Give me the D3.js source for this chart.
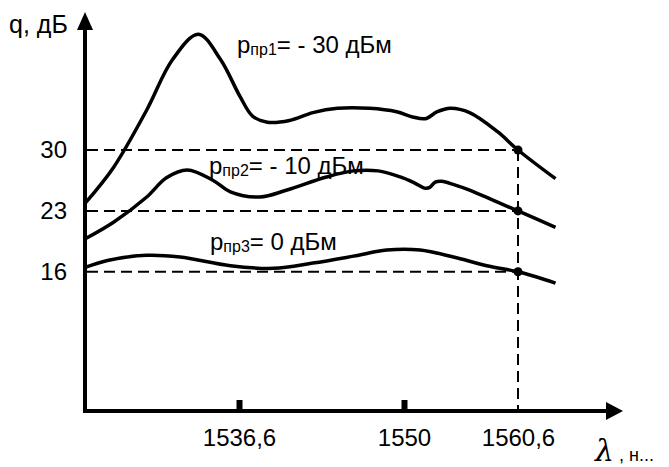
<!DOCTYPE html>
<html>
<head>
<meta charset="utf-8">
<script src="https://cdn.jsdelivr.net/npm/d3@7"></script>
<style>
  body { margin: 0; background: #fff; }
  text { font-family: "Liberation Sans", Arial, sans-serif; fill: #000; }
</style>
</head>
<body>
<div id="plot"></div>
<script>
//Chart data;
const curve1Lambda = [1524.1, 1526.4, 1529.1, 1531.2, 1533.3, 1535.1, 1536.7, 1537.7, 1538.9, 1540.7, 1542.6, 1544.6, 1547.2, 1549.4, 1550.8, 1552.0, 1553.1, 1554.3, 1556.1, 1558.7, 1560.6, 1564.1];
const curve1Q      = [23.9, 28.0, 34.6, 40.4, 43.3, 40.4, 36.1, 33.9, 33.2, 33.4, 34.3, 34.8, 34.8, 34.4, 33.8, 33.6, 34.4, 34.8, 34.3, 32.1, 30.0, 26.7];

const curve2Lambda = [1524.1, 1526.4, 1529.1, 1530.7, 1532.4, 1534.5, 1535.9, 1538.3, 1540.5, 1543.7, 1545.9, 1547.9, 1549.7, 1551.0, 1552.0, 1552.4, 1552.9, 1553.5, 1554.7, 1556.1, 1558.7, 1560.6, 1564.1];
const curve2Q      = [19.8, 21.7, 24.6, 26.8, 27.7, 26.5, 25.2, 24.6, 25.4, 26.9, 27.6, 27.6, 26.9, 26.2, 25.6, 25.7, 26.3, 26.4, 26.0, 25.4, 24.0, 23.0, 21.1];

const curve3Lambda = [1524.1, 1525.9, 1529.1, 1531.8, 1535.9, 1539.4, 1542.6, 1545.9, 1548.6, 1551.5, 1554.6, 1557.7, 1560.6, 1564.1];
const curve3Q      = [16.5, 17.3, 17.9, 17.7, 16.7, 16.4, 17.0, 17.8, 18.5, 18.5, 17.7, 16.7, 16.0, 14.7];

const markLambda = 1560.6;
const markQ = [30, 23, 16];

const yTicks = [30, 23, 16];
const xTicks = [1536.6, 1550, 1560.6];
const xTickLabels = ["1536,6", "1550", "1560,6"];

const curveSubs = ["пр1", "пр2", "пр3"];
const curveTails = ["= - 30 дБм", "= - 10 дБм", "= 0 дБм"];

//Size;
const w = 669;
const h = 467;

const svg = d3.select("#plot")
  .append("svg")
    .attr("width", w)
    .attr("height", h);

//Scales (the drawing stretches the x axis unevenly between ticks);
const x = d3.scaleLinear()
  .domain([1524, 1536.6, 1550, 1560.6, 1570.3])
  .range([84, 239, 404, 518, 622]);

const y = d3.scaleLinear()
  .domain([0, 30])
  .range([411, 150]);

//Dashed guide lines;
const dash = svg.append("g")
  .attr("stroke", "#000")
  .attr("stroke-width", 2)
  .attr("stroke-dasharray", "11,6")
  .attr("fill", "none");

dash.selectAll("line.h")
  .data(markQ)
  .enter()
  .append("line")
    .attr("class", "h")
    .attr("x1", x(1524) + 3)
    .attr("x2", x(markLambda))
    .attr("y1", d => y(d))
    .attr("y2", d => y(d));

dash.append("line")
  .attr("x1", x(markLambda))
  .attr("x2", x(markLambda))
  .attr("y1", y(d3.max(markQ)))
  .attr("y2", y(0));

//Curves;
const line = d3.line()
  .x(d => x(d[0]))
  .y(d => y(d[1]))
  .curve(d3.curveCatmullRom.alpha(0.5));

const curves = [
  d3.zip(curve1Lambda, curve1Q),
  d3.zip(curve2Lambda, curve2Q),
  d3.zip(curve3Lambda, curve3Q)
];

svg.selectAll("path.curve")
  .data(curves)
  .enter()
  .append("path")
    .attr("class", "curve")
    .attr("d", line)
    .attr("fill", "none")
    .attr("stroke", "#000")
    .attr("stroke-width", 3.5)
    .attr("stroke-linejoin", "round");

//Marker dots;
svg.selectAll("circle.mark")
  .data(markQ)
  .enter()
  .append("circle")
    .attr("class", "mark")
    .attr("cx", x(markLambda))
    .attr("cy", d => y(d))
    .attr("r", 4.5)
    .attr("fill", "#000");

//X axis (ticks + labels);
const xAxis = d3.axisBottom(x)
  .tickValues(xTicks)
  .tickFormat((d, i) => xTickLabels[i])
  .tickSizeInner(-11)
  .tickSizeOuter(0)
  .tickPadding(18);

const gx = svg.append("g")
  .attr("transform", "translate(0," + y(0) + ")")
  .call(xAxis);

gx.select(".domain").remove();
gx.selectAll(".tick line")
  .attr("stroke", "#000")
  .attr("stroke-width", 6)
  .filter(d => d === markLambda).remove();
gx.selectAll(".tick text")
  .attr("font-size", 24)
  .attr("font-family", "Liberation Sans, Arial, sans-serif")
  .attr("fill", "#000");

//Y axis labels;
const yAxis = d3.axisLeft(y)
  .tickValues(yTicks)
  .tickSize(0)
  .tickPadding(17);

const gy = svg.append("g")
  .attr("transform", "translate(" + x(1524) + ",0)")
  .call(yAxis);

gy.select(".domain").remove();
gy.selectAll(".tick text")
  .attr("font-size", 24)
  .attr("font-family", "Liberation Sans, Arial, sans-serif")
  .attr("fill", "#000");

//Axis lines with arrows;
const ax0 = x(1524) + 1;
const ay0 = y(0);

svg.append("line")
  .attr("x1", ax0).attr("x2", ax0)
  .attr("y1", ay0 + 2).attr("y2", 26)
  .attr("stroke", "#000").attr("stroke-width", 4);

svg.append("path")
  .attr("d", "M" + ax0 + ",12L" + (ax0 - 8) + ",30L" + (ax0 + 8) + ",30Z")
  .attr("fill", "#000");

svg.append("line")
  .attr("x1", ax0 - 2).attr("x2", 610)
  .attr("y1", ay0).attr("y2", ay0)
  .attr("stroke", "#000").attr("stroke-width", 4);

svg.append("path")
  .attr("d", "M623," + ay0 + "L606," + (ay0 - 9) + "L606," + (ay0 + 9) + "Z")
  .attr("fill", "#000");

//Axis titles;
svg.append("text")
  .attr("x", 9)
  .attr("y", 33)
  .attr("font-size", 25)
  .text("q, дБ");

const lt = svg.append("text")
  .attr("x", 595)
  .attr("y", 461);

lt.append("tspan")
  .attr("font-family", "DejaVu Serif, serif")
  .attr("font-style", "italic")
  .attr("font-size", 30)
  .text("λ");

lt.append("tspan")
  .attr("font-size", 18)
  .text(" , н...");

//Curve labels;
const labelPos = [[237, 53], [209, 174], [210, 250]];

labelPos.forEach(function(p, i){
  const t = svg.append("text")
    .attr("x", p[0])
    .attr("y", p[1])
    .attr("font-size", 24);

  t.append("tspan").text("p");
  t.append("tspan")
    .attr("font-size", 16)
    .attr("dy", 2)
    .text(curveSubs[i]);
  t.append("tspan")
    .attr("dy", -2)
    .text(curveTails[i]);
});
</script>
</body>
</html>
